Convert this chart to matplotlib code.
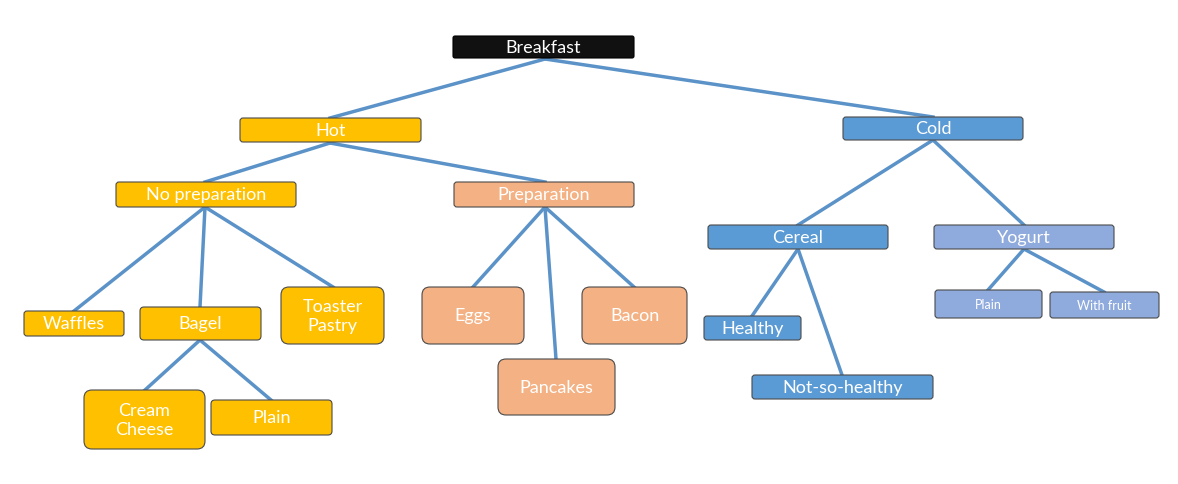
import matplotlib.pyplot as plt
from matplotlib.patches import FancyBboxPatch

# node: name -> (label, x0, y0, x1, y1, fill, text colour, font size, corner)
GOLD = "#FFC000"
SALMON = "#F4B183"
BLUE = "#5B9BD5"
LAV = "#8FAADC"

names = ["breakfast", "hot", "cold", "noprep", "prep", "cereal", "yogurt",
         "waffles", "bagel", "toaster", "eggs", "bacon", "pancakes",
         "healthy", "notso", "yplain", "fruit", "cream", "bplain"]
labels = ["Breakfast", "Hot", "Cold", "No preparation", "Preparation", "Cereal", "Yogurt",
          "Waffles", "Bagel", "Toaster\nPastry", "Eggs", "Bacon", "Pancakes",
          "Healthy", "Not-so-healthy", "Plain", "With fruit", "Cream\nCheese", "Plain"]
boxes = [(453, 37, 634, 59), (240, 119, 421, 143), (843, 118, 1023, 141),
         (116, 183, 296, 208), (454, 183, 634, 208), (708, 226, 888, 250),
         (934, 226, 1114, 250), (24, 312, 124, 337), (140, 308, 261, 341),
         (281, 288, 384, 345), (422, 288, 524, 345), (582, 288, 687, 345),
         (498, 360, 615, 416), (704, 317, 801, 341), (752, 376, 933, 400),
         (935, 291, 1042, 319), (1050, 293, 1159, 319), (84, 391, 205, 450),
         (211, 401, 332, 436)]
fills = ["#111111", GOLD, BLUE, GOLD, SALMON, BLUE, LAV,
         GOLD, GOLD, GOLD, SALMON, SALMON, SALMON,
         BLUE, BLUE, LAV, LAV, GOLD, GOLD]
sizes = [13, 13, 13, 13, 13, 13, 13, 13, 13, 13, 13, 13, 13, 13, 13, 9, 9, 13, 13]
corners = [2, 3, 3, 3, 3, 3, 3, 3, 4, 8, 8, 8, 8, 3, 3, 3, 3, 8, 4]

# edges: (parent, child, parent anchor point, child anchor point)
edges = [("breakfast", "hot", (545, 60), (330, 119)),
         ("breakfast", "cold", (545, 60), (933, 118)),
         ("hot", "noprep", (330, 144), (205, 183)),
         ("hot", "prep", (330, 144), (545, 183)),
         ("noprep", "waffles", (205, 208), (74, 312)),
         ("noprep", "bagel", (205, 208), (200, 308)),
         ("noprep", "toaster", (205, 208), (333, 288)),
         ("prep", "eggs", (545, 208), (473, 288)),
         ("prep", "pancakes", (545, 208), (556, 360)),
         ("prep", "bacon", (545, 208), (634, 288)),
         ("bagel", "cream", (200, 341), (145, 391)),
         ("bagel", "bplain", (200, 341), (271, 401)),
         ("cold", "cereal", (933, 141), (798, 226)),
         ("cold", "yogurt", (933, 141), (1024, 226)),
         ("cereal", "healthy", (798, 250), (752, 317)),
         ("cereal", "notso", (798, 250), (842, 376)),
         ("yogurt", "yplain", (1024, 250), (988, 291)),
         ("yogurt", "fruit", (1024, 250), (1104, 293))]

plt.rcParams['font.family'] = ['Lato', 'DejaVu Sans']
fig = plt.figure(figsize=(11.78, 4.85), dpi=100)
ax = fig.add_axes([0, 0, 1, 1])
ax.set_xlim(0, 1178)
ax.set_ylim(485, 0)
ax.axis('off')

for p, c, a, b in edges:
    ax.plot([a[0], b[0]], [a[1], b[1]], color="#5B93C8", lw=2.5, zorder=1)

for lab, (x0, y0, x1, y1), fc, fs, r in zip(labels, boxes, fills, sizes, corners):
    ec = "#000000" if fc == "#111111" else "#4a4a4a"
    patch = FancyBboxPatch((x0, y0), x1 - x0, y1 - y0,
                           boxstyle=f"round,pad=0,rounding_size={r}",
                           fc=fc, ec=ec, lw=0.8, zorder=2)
    ax.add_patch(patch)
    ax.text((x0 + x1) / 2, (y0 + y1) / 2, lab, color="white", fontsize=fs,
            ha="center", va="center", linespacing=1.3, zorder=3)

fig.savefig("out.png", dpi=100, facecolor="white")
